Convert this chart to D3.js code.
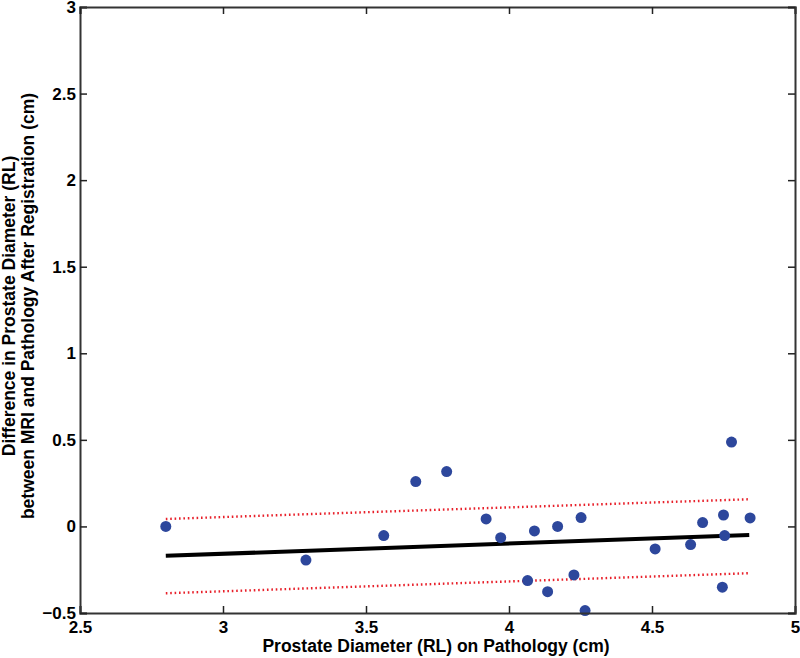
<!DOCTYPE html>
<html><head><meta charset="utf-8">
<script src="https://cdn.jsdelivr.net/npm/d3@7"></script>
<style>body{margin:0;background:#fff}svg{display:block}text{font-family:Arial,"Liberation Sans",sans-serif;fill:#000}</style>
</head><body><svg id="c" width="800" height="658"></svg>
<script>
const pathologyX = [2.80,3.29,3.562,3.674,3.782,3.92,3.971,4.065,4.089,4.135,4.17,4.227,4.252,4.266,4.511,4.635,4.677,4.75,4.754,4.746,4.778,4.843];
const differenceY = [0.0,-0.194,-0.053,0.259,0.317,0.043,-0.065,-0.313,-0.026,-0.377,0.0,-0.28,0.051,-0.486,-0.13,-0.105,0.022,0.066,-0.053,-0.351,0.487,0.049];
const fitX = [2.8,4.84];
const fitY = [-0.17,-0.049];
const upperY = [0.043,0.157];
const lowerY = [-0.386,-0.27];
const xTicks = [2.5,3,3.5,4,4.5,5];
const yTicks = [-0.5,0,0.5,1,1.5,2,2.5,3];
const xLabel = "Prostate Diameter (RL) on Pathology (cm)";
const yLabel = ["Difference in Prostate Diameter (RL)","between MRI and Pathology After Registration (cm)"];

const svg = d3.select("#c");
const L=80,R=795,T=7,B=613;
const x = d3.scaleLinear().domain([2.5,5]).range([L,R]);
const y = d3.scaleLinear().domain([-0.5,3]).range([B,T]);

const line = d3.line().x(d=>x(d[0])).y(d=>y(d[1]));
[upperY,lowerY].forEach(arr=>{
  svg.append("path").attr("d",line(fitX.map((v,i)=>[v,arr[i]])))
    .attr("fill","none").attr("stroke","#e8202a").attr("stroke-width",2.4).attr("stroke-dasharray","1.6,2.8");
});
svg.append("path").attr("d",line(fitX.map((v,i)=>[v,fitY[i]])))
  .attr("fill","none").attr("stroke","#000").attr("stroke-width",4);

svg.selectAll("circle.pt").data(pathologyX).enter().append("circle")
  .attr("cx",d=>x(d)).attr("cy",(d,i)=>y(differenceY[i])).attr("r",5.5).attr("fill","#2d479c");

const g=svg.append("g");
const ax=d3.axisBottom(x).tickValues(xTicks).tickSize(-7).tickPadding(8).tickFormat(d3.format("~g"));
const gx=g.append("g").attr("transform",`translate(0,${B})`).call(ax);
const ay=d3.axisLeft(y).tickValues(yTicks).tickSize(-7).tickPadding(4).tickFormat(d3.format("~g"));
const gy=g.append("g").attr("transform",`translate(${L},0)`).call(ay);
const gt=g.append("g").attr("transform",`translate(0,${T})`).call(d3.axisTop(x).tickValues(xTicks).tickSize(-7).tickFormat(""));
const gr=g.append("g").attr("transform",`translate(${R},0)`).call(d3.axisRight(y).tickValues(yTicks).tickSize(-7).tickFormat(""));
[gx,gy,gt,gr].forEach(a=>{
  a.select(".domain").attr("stroke","#333").attr("stroke-width",2);
  a.selectAll(".tick line").attr("stroke","#222").attr("stroke-width",1.5);
  a.selectAll(".tick text").attr("font-size",17).attr("font-weight","bold").attr("fill","#000")
   .style("font-family","Arial, 'Liberation Sans', sans-serif");
});

svg.append("text").attr("x",436).attr("y",652).attr("text-anchor","middle")
  .attr("font-size",17.5).attr("font-weight","bold").text(xLabel);
const yl=svg.append("text").attr("transform","translate(15,306) rotate(-90)").attr("text-anchor","middle")
  .attr("font-size",17.5).attr("font-weight","bold");
yl.append("tspan").attr("x",0).attr("dy",0).text(yLabel[0]);
yl.append("tspan").attr("x",0).attr("dy",19).text(yLabel[1]);
</script></body></html>
